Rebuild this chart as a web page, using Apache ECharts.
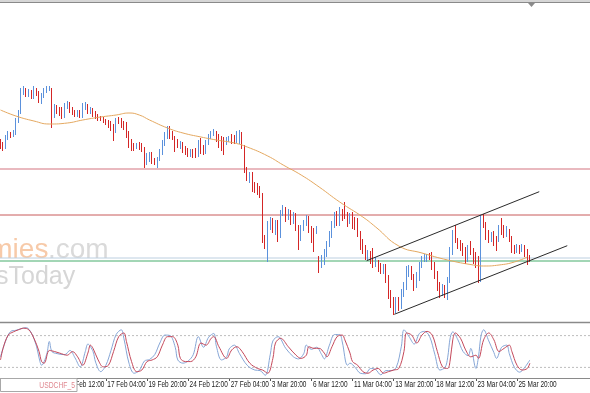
<!DOCTYPE html>
<html><head><meta charset="utf-8">
<script src="https://cdn.jsdelivr.net/npm/echarts@6/dist/echarts.min.js"></script>
<style>html,body{margin:0;padding:0;background:#fff;overflow:hidden}#c{width:590px;height:393px}</style>
</head><body><div id="c"></div>
<script>
// ---- data ----
const openP = [
.9859,.9856,.9852,.9861,.9866,.9864,.9866,.9879,.9887,.9907,
.9910,.9904,.9908,.9902,.9909,.9907,.9899,.9903,.9908,.9910,
.9911,.9883,.9892,.9889,.9890,.9884,.9893,.9896,.9891,.9888,
.9885,.9888,.9883,.9892,.9894,.9888,.9891,.9887,.9884,.9882,
.9881,.9879,.9878,.9876,.9873,.9869,.9881,.9879,.9876,.9874,
.9866,.9858,.9855,.9852,.9856,.9854,.9851,.9837,.9843,.9846,
.9840,.9835,.9840,.9847,.9856,.9863,.9872,.9867,.9862,.9859,
.9853,.9856,.9852,.9850,.9845,.9849,.9850,.9845,.9860,.9852,
.9848,.9857,.9863,.9866,.9867,.9864,.9862,.9860,.9856,.9860,
.9864,.9863,.9859,.9860,.9866,.9854,.9830,.9820,.9826,.9815,
.9814,.9811,.9805,.9762,.9757,.9774,.9780,.9768,.9777,.9764,
.9786,.9791,.9783,.9788,.9778,.9785,.9773,.9762,.9771,.9776,
.9782,.9772,.9770,.9767,.9742,.9734,.9738,.9746,.9755,.9764,
.9774,.9786,.9776,.9788,.9792,.9785,.9778,.9786,.9780,.9778,
.9767,.9759,.9753,.9742,.9747,.9750,.9735,.9738,.9735,.9728,
.9734,.9723,.9707,.9700,.9690,.9700,.9693,.9705,.9713,.9728,
.9732,.9724,.9715,.9722,.9734,.9741,.9742,.9744,.9745,.9735,
.9727,.9716,.9706,.9713,.9705,.9720,.9747,.9768,.9760,.9758,
.9754,.9750,.9740,.9756,.9750,.9746,.9742,.9720,.9784,.9775,
.9767,.9760,.9767,.9762,.9760,.9774,.9772,.9765,.9768,.9762,
.9753,.9749,.9753,.9749,.9753,.9749,.9743];
const closeP = [
.9854,.9851,.9862,.9866,.9864,.9867,.9880,.9888,.9908,.9911,
.9904,.9908,.9902,.9910,.9906,.9900,.9904,.9909,.9911,.9912,
.9883,.9892,.9888,.9886,.9883,.9894,.9896,.9889,.9887,.9885,
.9888,.9884,.9894,.9895,.9888,.9891,.9885,.9883,.9881,.9880,
.9878,.9877,.9874,.9872,.9869,.9880,.9878,.9875,.9872,.9864,
.9855,.9852,.9851,.9855,.9852,.9850,.9835,.9844,.9846,.9839,
.9837,.9841,.9848,.9857,.9865,.9872,.9864,.9862,.9855,.9854,
.9857,.9849,.9847,.9845,.9849,.9844,.9844,.9858,.9848,.9847,
.9858,.9864,.9867,.9868,.9860,.9854,.9851,.9850,.9861,.9862,
.9858,.9858,.9866,.9867,.9854,.9830,.9822,.9826,.9812,.9810,
.9808,.9805,.9760,.9755,.9776,.9780,.9770,.9777,.9762,.9787,
.9792,.9782,.9788,.9778,.9785,.9772,.9762,.9772,.9777,.9782,
.9770,.9760,.9758,.9772,.9730,.9742,.9748,.9757,.9767,.9776,
.9786,.9776,.9788,.9782,.9783,.9775,.9785,.9773,.9772,.9765,
.9752,.9748,.9742,.9748,.9738,.9735,.9740,.9730,.9728,.9733,
.9720,.9703,.9695,.9688,.9700,.9692,.9707,.9715,.9730,.9732,
.9722,.9712,.9725,.9735,.9742,.9744,.9745,.9742,.9732,.9724,
.9712,.9705,.9713,.9705,.9720,.9748,.9768,.9759,.9753,.9752,
.9746,.9738,.9752,.9747,.9738,.9734,.9720,.9782,.9774,.9763,
.9759,.9766,.9756,.9751,.9772,.9767,.9764,.9771,.9760,.9749,
.9748,.9753,.9748,.9754,.9745,.9738,.9740];
const highP = [
.9861,.9858,.9865,.9869,.9868,.9870,.9882,.9890,.9912,.9914,
.9912,.9911,.9910,.9914,.9912,.9909,.9907,.9912,.9914,.9914,
.9912,.9896,.9895,.9893,.9893,.9897,.9899,.9898,.9893,.9890,
.9890,.9890,.9897,.9898,.9896,.9893,.9892,.9889,.9886,.9884,
.9883,.9881,.9880,.9879,.9876,.9882,.9883,.9882,.9879,.9878,
.9869,.9861,.9857,.9857,.9858,.9857,.9853,.9847,.9848,.9848,
.9842,.9843,.9851,.9860,.9868,.9874,.9874,.9869,.9864,.9861,
.9859,.9858,.9854,.9852,.9851,.9851,.9852,.9860,.9862,.9855,
.9860,.9866,.9869,.9871,.9869,.9866,.9864,.9863,.9863,.9864,
.9866,.9865,.9869,.9870,.9868,.9855,.9833,.9828,.9828,.9818,
.9817,.9814,.9807,.9765,.9779,.9783,.9782,.9780,.9780,.9790,
.9795,.9793,.9791,.9790,.9788,.9787,.9775,.9775,.9780,.9785,
.9784,.9774,.9772,.9774,.9744,.9745,.9751,.9759,.9769,.9779,
.9788,.9789,.9793,.9791,.9798,.9788,.9787,.9788,.9783,.9782,
.9769,.9761,.9755,.9750,.9749,.9752,.9743,.9740,.9737,.9736,
.9736,.9725,.9710,.9703,.9703,.9703,.9711,.9718,.9734,.9735,
.9734,.9726,.9728,.9738,.9744,.9746,.9746,.9747,.9748,.9738,
.9729,.9718,.9716,.9715,.9723,.9753,.9770,.9775,.9762,.9760,
.9757,.9753,.9755,.9759,.9752,.9748,.9744,.9785,.9786,.9778,
.9770,.9768,.9769,.9764,.9775,.9782,.9775,.9774,.9771,.9764,
.9755,.9756,.9755,.9756,.9755,.9751,.9745];
const lowP = [
.9851,.9849,.9851,.9860,.9862,.9863,.9865,.9877,.9886,.9905,
.9903,.9903,.9901,.9901,.9904,.9897,.9896,.9902,.9907,.9909,
.9872,.9882,.9886,.9884,.9881,.9882,.9891,.9887,.9885,.9883,
.9883,.9882,.9882,.9890,.9886,.9886,.9883,.9881,.9879,.9879,
.9877,.9875,.9872,.9869,.9859,.9867,.9876,.9872,.9870,.9862,
.9852,.9849,.9849,.9851,.9850,.9848,.9832,.9835,.9838,.9836,
.9835,.9832,.9839,.9845,.9854,.9861,.9861,.9860,.9848,.9852,
.9851,.9847,.9845,.9843,.9843,.9842,.9842,.9843,.9846,.9845,
.9846,.9855,.9861,.9864,.9858,.9852,.9849,.9845,.9855,.9858,
.9856,.9856,.9857,.9856,.9851,.9827,.9819,.9817,.9808,.9807,
.9805,.9802,.9757,.9751,.9738,.9770,.9767,.9765,.9758,.9762,
.9784,.9778,.9780,.9775,.9776,.9769,.9750,.9759,.9769,.9774,
.9767,.9757,.9748,.9766,.9727,.9732,.9735,.9743,.9753,.9762,
.9772,.9774,.9774,.9779,.9781,.9773,.9776,.9771,.9770,.9763,
.9750,.9746,.9740,.9740,.9736,.9732,.9733,.9728,.9726,.9726,
.9717,.9701,.9692,.9685,.9687,.9689,.9691,.9703,.9710,.9723,
.9720,.9709,.9712,.9719,.9732,.9738,.9738,.9740,.9730,.9721,
.9709,.9702,.9704,.9702,.9700,.9717,.9745,.9757,.9751,.9749,
.9744,.9736,.9738,.9745,.9736,.9732,.9717,.9718,.9772,.9760,
.9757,.9758,.9754,.9749,.9758,.9765,.9762,.9763,.9758,.9747,
.9746,.9747,.9746,.9748,.9743,.9735,.9738];

// moving average, read at bar indices
const maPoints = [[0,.9890],[6,.9884],[13,.9879],[19,.9876],[26,.9877],[32,.9880],[39,.9883],[45,.9885],
[50,.9887],[54,.9885],[58,.9880],[65,.9872],[71,.9867],[78,.9863],[84,.9860],[91,.9857],[96,.9853],
[104,.9844],[110,.9835],[117,.9825],[124,.9813],[132,.9798],[141,.9783],[146,.9773],[155,.9754],
[164,.9747],[174,.9740],[184,.9735],[188,.9734],[194,.9735],[200,.9738],[205,.9743]];

// horizontal levels and trend channel
const levelUpper = 0.9831, levelMid = 0.9785, levelBlue = 0.9742, levelGreen = 0.9739;
const channelUpper = [[142.5,0.97393],[209.65,0.98083]];
const channelLower = [[153.23,0.96857],[220.55,0.97543]];

// stochastic oscillator
const stochMain = [[0,40],[2,70],[4,88],[6,90],[8,93],[10,95],[12,85],[14,60],[15,38],[16,24],[18,45],[19,69],
[20,50],[22,46],[25,44],[27,52],[29,38],[31,21],[33,50],[34,64],[36,50],[37,30],[39,12],[41,24],[43,52],[45,82],
[47,91],[48,75],[50,28],[52,9],[54,14],[56,32],[58,35],[60,44],[62,66],[64,81],[66,80],[68,58],[69,34],[71,28],
[73,32],[75,44],[77,78],[79,58],[81,77],[83,84],[84,60],[86,34],[88,40],[89,55],[91,62],[93,46],[96,24],[99,15],
[101,14],[103,5],[105,45],[106,70],[108,78],[111,56],[114,40],[116,36],[118,46],[119,62],[121,54],[123,58],[125,44],
[126,36],[128,62],[130,82],[132,82],[133,68],[135,24],[136,28],[138,20],[140,9],[142,8],[144,18],[146,16],[148,6],
[150,14],[152,14],[154,20],[156,60],[157,91],[159,78],[161,64],[163,84],[165,88],[167,78],[169,45],[171,15],[173,20],
[174,38],[175,76],[176,87],[178,72],[180,50],[182,42],[183,56],[185,18],[186,40],[187,80],[188,91],[190,70],[192,48],
[193,37],[195,58],[197,62],[198,46],[200,20],[202,11],[204,20],[206,34]];
const stochSignal = [[0,34],[1,56],[3,81],[5,87],[7,91],[9,94],[11,91],[13,75],[15,50],[16,31],[17,28],[19,52],
[21,50],[23,47],[26,43],[28,50],[30,40],[32,24],[34,47],[35,62],[36,56],[38,34],[40,21],[42,24],[44,50],[46,78],
[48,85],[49,69],[51,31],[53,12],[55,15],[57,31],[59,34],[61,40],[63,62],[65,78],[67,78],[69,62],[70,37],[72,31],
[74,31],[76,40],[78,66],[80,62],[82,75],[83,78],[85,59],[88,37],[90,53],[92,59],[94,50],[97,28],[100,18],[102,15],
[104,9],[106,37],[107,66],[109,75],[112,59],[115,43],[117,37],[119,43],[120,59],[122,56],[124,56],[126,47],[127,40],
[129,59],[131,78],[133,81],[134,72],[136,47],[137,31],[139,24],[141,12],[143,9],[145,15],[147,18],[149,9],[151,12],
[153,15],[155,18],[157,50],[158,85],[160,81],[162,66],[164,81],[166,88],[168,81],[170,50],[172,21],[174,18],[175,34],
[176,72],[177,85],[179,75],[181,53],[183,40],[185,43],[186,37],[188,72],[190,85],[192,72],[194,50],[196,56],[198,62],
[199,50],[201,24],[203,15],[205,18],[206,28]];
const stochLevels = [80, 20];

// time axis
const tickIndex = [25,41,57,73,89,105,121,137,153,169,185,201];
const tickLabels = ['12 Feb 12:00','17 Feb 04:00','19 Feb 20:00','24 Feb 12:00','27 Feb 04:00','3 Mar 20:00',
'6 Mar 12:00','11 Mar 04:00','13 Mar 20:00','18 Mar 12:00','23 Mar 04:00','25 Mar 20:00'];
const symbolName = 'USDCHF_5';

// ---- chart ----
const candles = openP.map((o, i) => [i, o, closeP[i], lowP[i], highP[i]]);
const X_MIN = -0.195, X_MAX = 229.4;
const labelFont = "9px 'Liberation Sans',Arial,sans-serif";
const hLine = (level, color, width, xi, yi) => ({
  type: 'line', xAxisIndex: xi, yAxisIndex: yi, data: [[X_MIN, level], [X_MAX, level]], symbol: 'none',
  silent: true, lineStyle: {color: color, width: width}, z: 1
});

const chart = echarts.init(document.getElementById('c'), null, {renderer: 'canvas'});
chart.setOption({
  animation: false,
  backgroundColor: '#ffffff',
  grid: [
    {left: 0, width: 590, top: 3, height: 318},
    {left: 0, width: 590, top: 325, height: 53}
  ],
  xAxis: [
    {type: 'value', gridIndex: 0, min: X_MIN, max: X_MAX, show: false},
    {type: 'value', gridIndex: 1, min: X_MIN, max: X_MAX,
     axisLine: {show: false}, splitLine: {show: false},
     axisTick: {show: true, customValues: tickIndex, length: 3, lineStyle: {color: '#555', width: 1}},
     axisLabel: {show: false}}
  ],
  yAxis: [
    {type: 'value', gridIndex: 0, min: 0.9679, max: 0.9997, show: false},
    {type: 'value', gridIndex: 1, min: 0, max: 100, show: false}
  ],
  series: [
    hLine(levelUpper, '#e2a2aa', 1.5, 0, 0),
    hLine(levelMid, '#c85a5a', 1, 0, 0),
    hLine(levelBlue, '#bccfe0', 1, 0, 0),
    hLine(levelGreen, '#46ad6c', 1, 0, 0),
    {type: 'candlestick', xAxisIndex: 0, yAxisIndex: 0, data: candles,
     encode: {x: 0, y: [1, 2, 3, 4]}, barWidth: 1.2, z: 2,
     itemStyle: {color: '#5b91dc', color0: '#d42626', borderColor: '#5b91dc', borderColor0: '#d42626', borderWidth: 1}},
    {type: 'line', xAxisIndex: 0, yAxisIndex: 0, data: maPoints, smooth: 0.5, symbol: 'none',
     lineStyle: {color: '#e4a860', width: 1}, z: 3},
    {type: 'line', xAxisIndex: 0, yAxisIndex: 0, data: channelUpper, symbol: 'none',
     lineStyle: {color: '#2a2a2a', width: 1}, z: 4},
    {type: 'line', xAxisIndex: 0, yAxisIndex: 0, data: channelLower, symbol: 'none',
     lineStyle: {color: '#2a2a2a', width: 1}, z: 4},
    ...stochLevels.map(v => ({
      type: 'line', xAxisIndex: 1, yAxisIndex: 1, data: [[X_MIN, v], [X_MAX, v]], symbol: 'none', silent: true,
      lineStyle: {color: '#bdbdbd', width: 1, type: [2, 2]}, z: 1})),
    {type: 'line', xAxisIndex: 1, yAxisIndex: 1, data: stochMain, smooth: 0.35, symbol: 'none',
     lineStyle: {color: '#86a6d6', width: 1}, z: 2},
    {type: 'line', xAxisIndex: 1, yAxisIndex: 1, data: stochSignal, smooth: 0.35, symbol: 'none',
     lineStyle: {color: '#c4485a', width: 1}, z: 3}
  ]
});

// time labels placed at the axis positions given by the library's own scale (narrowed like the terminal font)
const timeLabels = tickIndex.map((t, k) => ({
  type: 'text', z: 50, x: chart.convertToPixel({xAxisIndex: 1}, t) + 1.5, y: 380.5, scaleX: 0.72,
  style: {text: tickLabels[k], font: labelFont, fill: '#222', align: 'left', verticalAlign: 'top'}
}));

chart.setOption({
  graphic: [
    {type: 'rect', shape: {x: 0, y: 0, width: 590, height: 2}, style: {fill: '#d6d6d6'}, z: 100},
    {type: 'line', shape: {x1: 0, y1: 2.5, x2: 590, y2: 2.5}, style: {stroke: '#8a8a8a', lineWidth: 1}, z: 100},
    {type: 'polygon', shape: {points: [[528, 3], [535, 3], [531.5, 7]]}, style: {fill: '#8a8a8a'}, z: 100},
    {type: 'line', shape: {x1: 0, y1: 322.5, x2: 590, y2: 322.5}, style: {stroke: '#8a8a8a', lineWidth: 1.5}, z: 100},
    {type: 'line', shape: {x1: 0, y1: 378.5, x2: 590, y2: 378.5}, style: {stroke: '#8a8a8a', lineWidth: 1}, z: 100},
    ...timeLabels,
    {type: 'rect', shape: {x: 0.5, y: 378.5, width: 76.5, height: 13}, style: {fill: '#ffffff', stroke: '#a8a8a8', lineWidth: 1}, z: 100},
    {type: 'text', z: 101, x: 75, y: 381, scaleX: 0.75,
      style: {text: symbolName, align: 'right', verticalAlign: 'top', font: labelFont, fill: '#e08890'}},
    {type: 'text', z: 1, style: {text: 'economies', x: -87, y: 250, verticalAlign: 'middle',
      font: "28px 'Liberation Sans',Arial,sans-serif", fill: '#f7caa9'}},
    {type: 'text', z: 1, style: {text: '.com', x: 48, y: 250, verticalAlign: 'middle',
      font: "28px 'Liberation Sans',Arial,sans-serif", fill: '#dadada'}},
    {type: 'text', z: 1, style: {text: 'NewsToday', x: -54, y: 277, verticalAlign: 'middle',
      font: "25px 'Liberation Sans',Arial,sans-serif", fill: '#d6d6d6'}}
  ]
});
</script>
</body></html>
